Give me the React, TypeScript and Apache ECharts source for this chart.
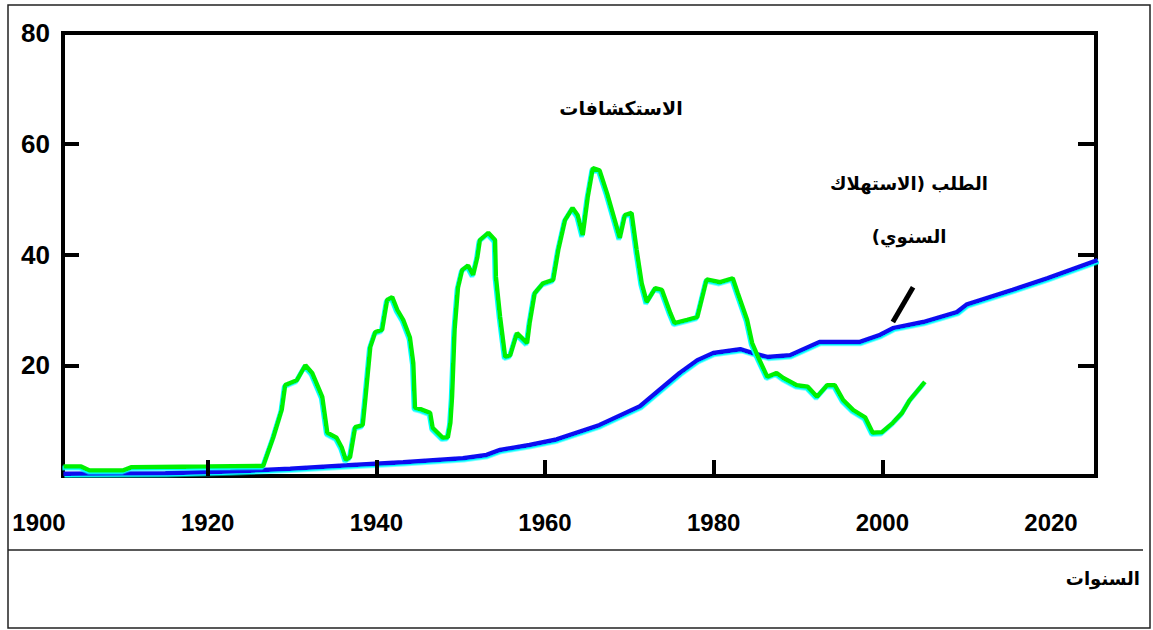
import React, { useEffect, useRef } from "react";
import * as echarts from "echarts";

// Discoveries (green) — year / value
const DISCOVERY_YEARS = [
  1902.9, 1905, 1906, 1910, 1911, 1920, 1926.6, 1927.8, 1928.8, 1929.2, 1930.6, 1931.6,
  1932.4, 1933.6, 1934.2, 1935.3, 1935.9, 1936.4, 1936.9, 1937.5, 1938.4, 1938.7, 1939.3,
  1939.9, 1940.7, 1941.3, 1941.9, 1942.5, 1943.2, 1944.0, 1944.4, 1944.6, 1945.4, 1946.4,
  1946.7, 1947.9, 1948.5, 1948.8, 1949.0, 1949.3, 1949.7, 1950.2, 1950.9, 1951.5, 1952.0,
  1952.3, 1953.3, 1954.1, 1954.2, 1954.7, 1955.3, 1955.9, 1956.7, 1957.9, 1958.2, 1958.8,
  1959.8, 1961.0, 1961.6, 1962.4, 1963.3, 1963.9, 1964.5, 1965.1, 1965.7, 1966.5, 1967.4,
  1968.3, 1968.9, 1969.5, 1970.3, 1970.9, 1971.5, 1972.1, 1973.1, 1973.9, 1974.9, 1975.4,
  1976.9, 1978.1, 1978.8, 1979.2, 1980.8, 1982.3, 1982.9, 1984.0, 1984.6, 1985.3, 1986.4,
  1987.5, 1988.3, 1989.9, 1991.2, 1992.3, 1993.5, 1994.4, 1995.4, 1996.6, 1998.0, 1998.9,
  2000.0, 2001.3, 2002.4, 2003.3, 2005.1,
];
const DISCOVERY_VALUES = [
  1.7, 1.7, 1.0, 1.0, 1.6, 1.7, 1.8, 7, 12, 16.4, 17.3, 20,
  18.6, 14.3, 7.8, 6.9, 5.2, 2.9, 3.4, 8.8, 9.2, 13.7, 23.3,
  26, 26.4, 31.8, 32.3, 30, 28.2, 25, 20.4, 12.3, 12, 11.4,
  8.7, 6.9, 7, 9.6, 14.3, 26.4, 34, 37.2, 38, 36.3, 39.5,
  42.6, 43.9, 42.6, 36, 28.7, 21.5, 21.8, 25.8, 24, 27.6, 33,
  34.8, 35.4, 40.8, 46.2, 48.4, 47.1, 43.5, 50.4, 55.6, 55.2, 51,
  46.2, 43, 47.1, 47.5, 40.8, 34.8, 31.4, 33.9, 33.6, 29.4, 27.6,
  28.2, 28.7, 33, 35.5, 35, 35.7, 33, 28.2, 24, 21.5, 17.9,
  18.6, 17.7, 16.4, 16.1, 14.3, 16.4, 16.4, 13.7, 11.9, 10.6, 7.8,
  7.9, 9.6, 11.4, 13.7, 17,
];

// Demand / annual consumption (blue)
const DEMAND_YEARS = [
  1902.9, 1915, 1922.7, 1929.8, 1937.2, 1943.2, 1950.3, 1953.1, 1954.7, 1958.2, 1961.4,
  1966.5, 1971.3, 1976.0, 1978.1, 1980.0, 1983.2, 1984.7, 1986.4, 1989.1, 1992.6, 1997.4,
  1999.8, 2001.3, 2004.9, 2008.9, 2010.1, 2015.5, 2019.6, 2025.6,
];
const DEMAND_VALUES = [
  0.4, 0.5, 0.8, 1.3, 2.0, 2.5, 3.2, 3.8, 4.7, 5.6, 6.6,
  9.2, 12.6, 18.6, 20.9, 22.2, 22.9, 22.2, 21.5, 21.8, 24.2, 24.2,
  25.5, 26.7, 27.8, 29.6, 31, 33.6, 35.7, 39,
];

const X_TICK_LABELS = [1900, 1920, 1940, 1960, 1980, 2000, 2020];
const X_INNER_TICKS = [1920, 1940, 1960, 1980, 2000];
const Y_TICK_LABELS = [20, 40, 60, 80];
const Y_INNER_TICKS = [20, 40, 60];

const TITLE_DISCOVERY = "الاستكشافات";
const TITLE_DEMAND_1 = "الطلب (الاستهلاك";
const TITLE_DEMAND_2 = "\u200Fالسنوي)\u200F";
const X_AXIS_NAME = "السنوات";

const ARROW_FROM = [2001.3, 27.8];
const ARROW_TO = [2003.7, 34.1];

const zip = (xs: number[], ys: number[]) => xs.map((x, i) => [x, ys[i]]);

export default function App() {
  const ref = useRef<HTMLDivElement>(null);

  useEffect(() => {
    if (!ref.current) return;
    const chart = echarts.init(ref.current, undefined, { renderer: "svg" });
    const axisFont = {
      fontFamily: "'Liberation Sans', Arial, sans-serif",
      fontWeight: "bold" as const,
      color: "#000",
    };
    const arabicFont = "'DejaVu Sans', sans-serif";
    const hiddenLine = { show: true, lineStyle: { color: "#000", width: 0, opacity: 0 } };
    const tickStyle = { color: "#000", width: 4 };

    chart.setOption({
      animation: false,
      backgroundColor: "#fff",
      grid: [
        {
          left: 63,
          top: 33,
          width: 1033,
          height: 443,
          show: true,
          borderColor: "#000",
          borderWidth: 4,
          backgroundColor: "transparent",
        },
        { left: 39, top: 33, width: 1012, height: 443, show: false },
      ],
      xAxis: [
        {
          type: "value",
          gridIndex: 0,
          min: 1902.85,
          max: 2025.4,
          axisLine: { show: false },
          axisTick: { show: false },
          axisLabel: { show: false },
          splitLine: { show: false },
        },
        {
          type: "value",
          gridIndex: 1,
          position: "bottom",
          min: 1900,
          max: 2020,
          interval: 20,
          z: 10,
          axisLine: hiddenLine,
          axisTick: {
            show: true,
            inside: true,
            length: 16,
            lineStyle: tickStyle,
            customValues: X_INNER_TICKS,
          },
          axisLabel: {
            ...axisFont,
            fontSize: 24,
            margin: 34,
            showMinLabel: true,
            showMaxLabel: true,
            customValues: X_TICK_LABELS,
            formatter: (v: number) => String(v),
          },
          splitLine: { show: false },
        },
      ],
      yAxis: [
        {
          type: "value",
          gridIndex: 0,
          position: "left",
          min: 0,
          max: 80,
          interval: 20,
          axisLine: hiddenLine,
          axisTick: {
            show: true,
            inside: true,
            length: 16,
            lineStyle: tickStyle,
            customValues: Y_INNER_TICKS,
          },
          axisLabel: {
            ...axisFont,
            fontSize: 26,
            margin: 13,
            customValues: Y_TICK_LABELS,
            formatter: (v: number) => String(v),
          },
          splitLine: { show: false },
        },
        {
          type: "value",
          gridIndex: 0,
          position: "right",
          min: 0,
          max: 80,
          interval: 20,
          axisLine: hiddenLine,
          axisTick: {
            show: true,
            inside: true,
            length: 18,
            lineStyle: tickStyle,
            customValues: Y_INNER_TICKS,
          },
          axisLabel: { show: false },
          splitLine: { show: false },
        },
        { type: "value", gridIndex: 1, min: 0, max: 80, show: false },
      ],
      series: [
        {
          type: "line",
          name: "demand",
          xAxisIndex: 0,
          yAxisIndex: 0,
          data: zip(DEMAND_YEARS, DEMAND_VALUES),
          symbol: "none",
          smooth: false,
          lineStyle: {
            color: "#0f0ff0",
            width: 4.5,
            shadowColor: "#00ffff",
            shadowBlur: 0,
            shadowOffsetY: 1.5,
            shadowOffsetX: 1,
          },
          z: 3,
          markLine: {
            silent: true,
            symbol: ["none", "none"],
            label: { show: false },
            lineStyle: { color: "#000", width: 5, type: "solid" },
            data: [[{ coord: ARROW_FROM }, { coord: ARROW_TO }]],
          },
        },
        {
          type: "line",
          name: "discovery",
          xAxisIndex: 0,
          yAxisIndex: 0,
          data: zip(DISCOVERY_YEARS, DISCOVERY_VALUES),
          symbol: "none",
          smooth: false,
          lineStyle: {
            color: "#00f000",
            width: 4.5,
            shadowColor: "#00ffff",
            shadowBlur: 0,
            shadowOffsetY: 1.5,
            shadowOffsetX: -1,
          },
          z: 4,
        },
      ],
      graphic: [
        {
          type: "rect",
          shape: { x: 8, y: 5, width: 1142, height: 623 },
          style: { fill: "none", stroke: "#222", lineWidth: 1.5 },
          silent: true,
        },
        {
          type: "line",
          shape: { x1: 8, y1: 550, x2: 1143, y2: 550 },
          style: { stroke: "#222", lineWidth: 1.5 },
          silent: true,
        },
        {
          type: "text",
          x: 621,
          y: 108,
          style: {
            text: TITLE_DISCOVERY,
            fill: "#000",
            font: `bold 19px ${arabicFont}`,
            textAlign: "center",
            textVerticalAlign: "middle",
          },
        },
        {
          type: "text",
          x: 909,
          y: 183,
          style: {
            text: TITLE_DEMAND_1,
            fill: "#000",
            font: `bold 18px ${arabicFont}`,
            textAlign: "center",
            textVerticalAlign: "middle",
          },
        },
        {
          type: "text",
          x: 909,
          y: 236,
          style: {
            text: TITLE_DEMAND_2,
            fill: "#000",
            font: `bold 18px ${arabicFont}`,
            textAlign: "center",
            textVerticalAlign: "middle",
          },
        },
        {
          type: "text",
          x: 1140,
          y: 578,
          style: {
            text: X_AXIS_NAME,
            fill: "#000",
            font: `bold 18px ${arabicFont}`,
            textAlign: "right",
            textVerticalAlign: "middle",
          },
        },
      ],
    });

    return () => chart.dispose();
  }, []);

  return (
    <div
      ref={ref}
      style={{
        position: "fixed",
        left: 0,
        top: 0,
        width: 1153,
        height: 630,
        background: "#fff",
      }}
    />
  );
}
